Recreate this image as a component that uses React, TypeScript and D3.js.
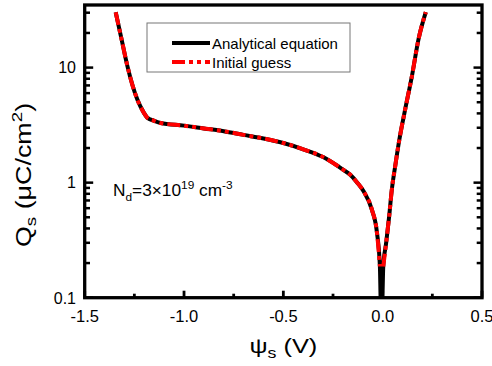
import React from 'react';
import * as d3 from 'd3';

// surface potential (V) and surface charge (uC/cm^2)
const psiAnalytical = [
    -1.344, -1.314, -1.285, -1.235, -1.202, -1.185, -1.153, -1.118, -1.0, -0.9, -0.8, -0.7, -0.6, -0.5, -0.4,
    -0.3, -0.2, -0.163, -0.128, -0.096, -0.054, -0.029, -0.014, -0.009, -0.003, 0.003, 0.0176, 0.0327, 0.046,
    0.063, 0.084, 0.113, 0.147, 0.18, 0.217,
];
const qsAnalytical = [
    30.3, 17.5, 10.3, 5.27, 4.04, 3.67, 3.46, 3.3, 3.13, 2.96, 2.8, 2.6, 2.42, 2.21, 1.95, 1.67, 1.3, 1.17, 1.0,
    0.84, 0.58, 0.37, 0.187, 0.085, 0.085, 0.187, 0.3, 0.51, 0.87, 1.39, 2.37, 4.31, 8.4, 17.5, 30.3,
];

// initial guess: same curve, stops at ~0.19 on both sides of the dip (null = break)
const psiGuess = [
    -1.344, -1.314, -1.285, -1.235, -1.202, -1.185, -1.153, -1.118, -1.0, -0.9, -0.8, -0.7, -0.6, -0.5, -0.4,
    -0.3, -0.2, -0.163, -0.128, -0.096, -0.054, -0.029, -0.014, null, 0.003, 0.0176, 0.0327, 0.046, 0.063, 0.084,
    0.113, 0.147, 0.18, 0.217,
];
const qsGuess = [
    30.3, 17.5, 10.3, 5.27, 4.04, 3.67, 3.46, 3.3, 3.13, 2.96, 2.8, 2.6, 2.42, 2.21, 1.95, 1.67, 1.3, 1.17, 1.0,
    0.84, 0.58, 0.37, 0.187, null, 0.187, 0.3, 0.51, 0.87, 1.39, 2.37, 4.31, 8.4, 17.5, 30.3,
];

const xTicks = [-1.5, -1.25, -1.0, -0.75, -0.5, -0.25, 0.0, 0.25, 0.5];
const xTickLabels = ['-1.5', '-1.0', '-0.5', '0.0', '0.5'];
const yTickLabels = ['0.1', '1', '10'];
const legendLabels = ['Analytical equation', 'Initial guess'];

const FONT = "'Liberation Sans', Arial, Helvetica, sans-serif";
const W = 492;
const H = 366;
const left = 84.7;
const right = 482;
const top = 5;
const bottom = 297.7;

export default function App() {
    const x = d3.scaleLinear().domain([-1.5, 0.5]).range([left, right]);
    const y = d3.scaleLog().domain([0.1, 35]).range([bottom, top]);

    const analytical = psiAnalytical.map((p, i) => [p, qsAnalytical[i]] as [number, number]);
    const guess = psiGuess.map((p, i) => [p, qsGuess[i]] as [number | null, number | null]);

    const line = d3
        .line<[number, number]>()
        .x((d) => x(d[0]))
        .y((d) => y(d[1]))
        .curve(d3.curveMonotoneX);
    const guessLine = d3
        .line<[number | null, number | null]>()
        .defined((d) => d[0] != null && d[1] != null)
        .x((d) => x(d[0] as number))
        .y((d) => y(d[1] as number))
        .curve(d3.curveMonotoneX);

    const yTicks = y.ticks();
    const isMajorY = (v: number) => Math.abs(Math.log10(v) - Math.round(Math.log10(v))) < 1e-6;
    const isMajorX = (v: number) => Math.abs(v * 2 - Math.round(v * 2)) < 1e-6;

    const dash = '13,4,4,4,4,4';

    return (
        <svg
            width={W}
            height={H}
            style={{ position: 'fixed', left: 0, top: 0, background: '#fff' }}
            fontFamily={FONT}
        >
            <defs>
                <clipPath id="plot">
                    <rect x={left} y={top} width={right - left} height={bottom - top} />
                </clipPath>
            </defs>

            {/* curves */}
            <g clipPath="url(#plot)" fill="none">
                <path d={line(analytical) || ''} stroke="#000" strokeWidth={4} />
                <path d={guessLine(guess) || ''} stroke="#ff0000" strokeWidth={4} strokeDasharray={dash} />
            </g>

            {/* y ticks, left and right, pointing inward */}
            {yTicks.map((v, i) => {
                const len = isMajorY(v) ? 8.5 : 5.3;
                return (
                    <g key={'y' + i} stroke="#000" strokeWidth={2.5}>
                        <line x1={left} x2={left + len} y1={y(v)} y2={y(v)} />
                        <line x1={right} x2={right - len} y1={y(v)} y2={y(v)} />
                    </g>
                );
            })}
            {/* x ticks, bottom only */}
            {xTicks.map((v, i) => {
                const len = isMajorX(v) ? 7 : 4;
                return (
                    <line
                        key={'x' + i}
                        x1={x(v)}
                        x2={x(v)}
                        y1={bottom}
                        y2={bottom - len}
                        stroke="#000"
                        strokeWidth={2.8}
                    />
                );
            })}

            {/* frame */}
            <rect x={left} y={top} width={right - left} height={bottom - top} fill="none" stroke="#000" strokeWidth={3.3} />

            {/* tick labels */}
            {xTickLabels.map((t) => (
                <text key={t} x={x(+t)} y={321.5} fontSize={16.5} textAnchor="middle" fill="#000">
                    {t}
                </text>
            ))}
            {yTickLabels.map((t) => (
                <text key={t} x={76} y={y(+t) + 5.8} fontSize={16} textAnchor="end" fill="#000">
                    {t}
                </text>
            ))}

            {/* axis titles */}
            <text transform={`translate(${(left + right) / 2},353) scale(1.27,1)`} fontSize={20} textAnchor="middle">
                ψ
                <tspan fontSize={14} dy={5}>
                    s
                </tspan>
                <tspan dy={-5}> (V)</tspan>
            </text>
            <text transform="translate(31,175) rotate(-90) scale(1.25,1)" fontSize={21.5} textAnchor="middle">
                Q
                <tspan fontSize={15} dy={5}>
                    s
                </tspan>
                <tspan dy={-5}> (μC/cm</tspan>
                <tspan fontSize={15} dy={-9}>
                    2
                </tspan>
                <tspan dy={9}>)</tspan>
            </text>

            {/* annotation */}
            <text transform="translate(113,196) scale(1.08,1)" fontSize={16}>
                N
                <tspan fontSize={11} dy={5}>
                    d
                </tspan>
                <tspan dy={-5}>=3×10</tspan>
                <tspan fontSize={11} dy={-7}>
                    19
                </tspan>
                <tspan dy={7}> cm</tspan>
                <tspan fontSize={11} dy={-7}>
                    -3
                </tspan>
            </text>

            {/* legend */}
            <rect x={147} y={23} width={203} height={49} fill="#fff" stroke="#777" strokeWidth={1} />
            <line x1={172} x2={210} y1={43} y2={43} stroke="#000" strokeWidth={4} />
            <line x1={172} x2={210} y1={62} y2={62} stroke="#ff0000" strokeWidth={4} strokeDasharray={dash} />
            {legendLabels.map((t, i) => (
                <text key={t} x={212} y={48.5 + i * 19} fontSize={15} fill="#000">
                    {t}
                </text>
            ))}
        </svg>
    );
}
